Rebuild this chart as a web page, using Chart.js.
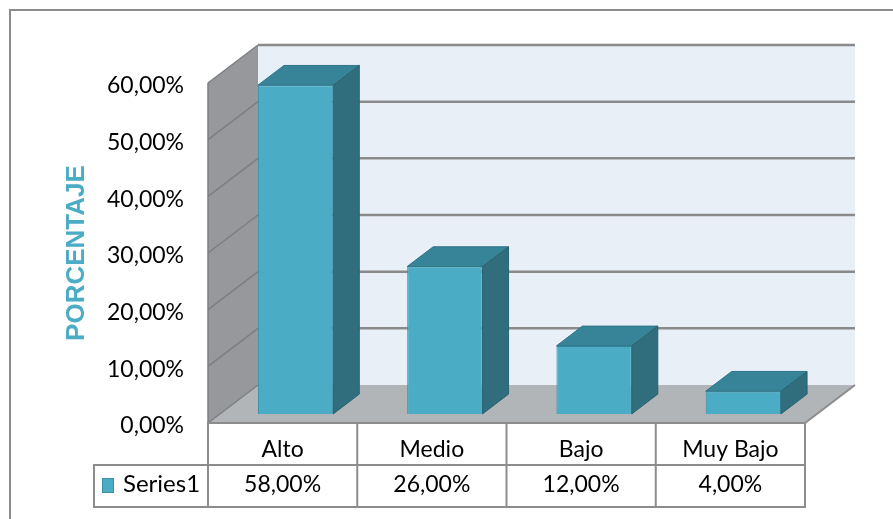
<!DOCTYPE html>
<html><head><meta charset="utf-8">
<script src="https://cdn.jsdelivr.net/npm/chart.js@4"></script>
<style>html,body{margin:0;padding:0;background:#fff;overflow:hidden}canvas{display:block}</style>
</head><body>
<canvas id="c" width="893" height="519"></canvas>
<script>
// ---- data ----
const categories = ['Alto', 'Medio', 'Bajo', 'Muy Bajo'];
const seriesName = 'Series1';
const values = [58, 26, 12, 4];
const yTicks = [0, 10, 20, 30, 40, 50, 60];
const axisTitle = 'PORCENTAJE';

const fmt = v => Number(v).toFixed(2).replace('.', ',') + '%';

// ---- style / geometry ----
const DEPTH = {dx: 50, dy: -38};
const BAR_FRONT = 0.24, BAR_BACK = 0.76;
const C = {
  front: '#4BACC6', frontBorder: '#3A8EA6', top: '#378499', side: '#306E7E',
  wall: '#96989C', floor: '#B2B5B8', back: '#E9EFF7', grid: '#8A8A8A',
  wallLine: '#7C7E82', table: '#8C8C8C', title: '#4BACC6', text: '#000'
};
const FONT = "Lato, 'Open Sans', sans-serif";
const FS = 23;

// pick a narrow bold family for the axis title if available, sized to ~178px length
const titleFont = (() => {
  const cx = document.createElement('canvas').getContext('2d');
  cx.font = "bold 100px monospace"; const wm = cx.measureText(axisTitle).width;
  cx.font = "bold 100px 'Liberation Sans Narrow', monospace"; const wn = cx.measureText(axisTitle).width;
  let fam = "'Liberation Sans Narrow'";
  let w = wn;
  if (Math.abs(wn - wm) < 0.5) { fam = "'Liberation Sans', Arial"; cx.font = "bold 100px 'Liberation Sans', Arial"; w = cx.measureText(axisTitle).width; }
  const size = Math.round(178 / (w / 100));
  return {family: fam, size: size, weight: 'bold'};
})();

function poly(ctx, pts, fill, stroke, lw) {
  ctx.beginPath();
  pts.forEach((p, i) => i ? ctx.lineTo(p[0], p[1]) : ctx.moveTo(p[0], p[1]));
  ctx.closePath();
  if (fill) { ctx.fillStyle = fill; ctx.fill(); }
  if (stroke) { ctx.strokeStyle = stroke; ctx.lineWidth = lw || 1; ctx.stroke(); }
}
function line(ctx, x1, y1, x2, y2, col, lw) {
  ctx.beginPath(); ctx.moveTo(x1, y1); ctx.lineTo(x2, y2);
  ctx.strokeStyle = col; ctx.lineWidth = lw; ctx.stroke();
}

const scene3d = {
  id: 'scene3d',
  beforeDraw(chart) {
    const {ctx, chartArea: a, scales: {y}} = chart;
    const {dx, dy} = DEPTH;
    const L = a.left, R = a.right, T = a.top, B = a.bottom;
    ctx.save();
    ctx.fillStyle = '#fff'; ctx.fillRect(0, 0, chart.width, chart.height);
    // outer frame
    ctx.beginPath(); ctx.moveTo(10, chart.height + 5); ctx.lineTo(10, 10); ctx.lineTo(chart.width + 5, 10);
    ctx.strokeStyle = C.table; ctx.lineWidth = 2; ctx.stroke();
    // back wall
    ctx.fillStyle = C.back; ctx.fillRect(L + dx, T + dy, R - L, B - T);
    // side wall
    poly(ctx, [[L, T], [L + dx, T + dy], [L + dx, B + dy], [L, B]], C.wall);
    // floor
    poly(ctx, [[L, B], [L + dx, B + dy], [R + dx, B + dy], [R, B]], C.floor);
    // gridlines on back wall and side wall
    yTicks.forEach(v => {
      const py = y.getPixelForValue(v);
      if (v !== yTicks[0]) line(ctx, L + dx, py + dy, R + dx, py + dy, C.grid, 2.5);
      line(ctx, L, py, L + dx, py + dy, C.wallLine, 1.5);
    });
    // edges
    line(ctx, L, T, L, B, C.wallLine, 1.5);
    line(ctx, R, B, R + dx, B + dy, C.table, 2);
    line(ctx, L, B, R, B, C.table, 2);
    ctx.restore();
  },
  beforeDatasetsDraw(chart) {
    chart.ctx.save();
    chart.ctx.translate(DEPTH.dx * 0.26, DEPTH.dy * BAR_FRONT);
  },
  afterDatasetsDraw(chart) {
    const ctx = chart.ctx;
    ctx.restore();
    const fx = DEPTH.dx * 0.26, fy = DEPTH.dy * BAR_FRONT;
    const ex = DEPTH.dx * (BAR_BACK - BAR_FRONT), ey = DEPTH.dy * (BAR_BACK - BAR_FRONT);
    ctx.save();
    chart.getDatasetMeta(0).data.forEach(el => {
      const {x, y, base, width} = el.getProps(['x', 'y', 'base', 'width'], true);
      const l = x - width / 2 + fx, r = x + width / 2 + fx, t = y + fy, b = base + fy;
      poly(ctx, [[l, t], [l + ex, t + ey], [r + ex, t + ey], [r, t]], C.top, '#2F7488', 1);
      poly(ctx, [[r, t], [r + ex, t + ey], [r + ex, b + ey], [r, b]], C.side, '#2A6372', 1);
    });
    ctx.restore();
  },
  afterDraw(chart) {
    const {ctx, chartArea: a, scales: {x}} = chart;
    const cw = x.getPixelForValue(1) - x.getPixelForValue(0);
    const r0 = a.bottom, r1 = r0 + 42, r2 = r1 + 42;
    const legL = 94;
    ctx.save();
    // grid of the data table
    line(ctx, a.left, r0, a.right, r0, C.table, 2);
    line(ctx, legL, r1, a.right, r1, C.table, 2);
    line(ctx, legL, r2, a.right, r2, C.table, 2);
    line(ctx, legL, r1 - 1, legL, r2 + 1, C.table, 2);
    for (let i = 0; i <= categories.length; i++) {
      const px = x.getPixelForValue(0) - cw / 2 + i * cw;
      line(ctx, px, r0 - 1, px, r2 + 1, C.table, 2);
    }
    ctx.font = FS + 'px ' + FONT;
    ctx.fillStyle = C.text;
    ctx.textAlign = 'center'; ctx.textBaseline = 'alphabetic';
    categories.forEach((c, i) => {
      const cx = x.getPixelForValue(i);
      ctx.fillText(c, cx, r0 + 34);
      ctx.fillText(fmt(values[i]), cx, r1 + 27);
    });
    // legend key
    ctx.fillStyle = C.front; ctx.fillRect(102.5, 478.5, 11, 14);
    ctx.strokeStyle = C.frontBorder; ctx.lineWidth = 1; ctx.strokeRect(102.5, 478.5, 11, 14);
    ctx.fillStyle = C.text; ctx.textAlign = 'left';
    ctx.font = (FS + 1) + 'px ' + FONT;
    ctx.fillText(seriesName, 123, r1 + 27);
    ctx.restore();
  }
};

new Chart(document.getElementById('c'), {
  type: 'bar',
  data: {
    labels: categories,
    datasets: [{
      label: seriesName,
      data: values,
      backgroundColor: C.front,
      borderColor: C.frontBorder,
      borderWidth: 1,
      categoryPercentage: 1,
      barPercentage: 0.505,
      clip: false
    }]
  },
  options: {
    responsive: false,
    animation: false,
    devicePixelRatio: 1,
    layout: {padding: {left: 0, top: 83, right: 88, bottom: 96}},
    plugins: {legend: {display: false}, tooltip: {enabled: false}},
    scales: {
      x: {display: false},
      y: {
        min: 0, max: 60,
        afterBuildTicks: s => { s.ticks = yTicks.map(v => ({value: v})); },
        afterFit: s => { s.width = 208; },
        grid: {display: false, drawTicks: false},
        border: {display: false},
        ticks: {padding: 24, labelOffset: 3, color: C.text, font: {family: FONT, size: FS}, callback: v => fmt(v)},
        title: {
          display: true, text: axisTitle, color: C.title, font: titleFont,
          padding: {top: 77 - titleFont.size * 0.6, bottom: 0}
        }
      }
    }
  },
  plugins: [scene3d]
});
</script>
</body></html>
